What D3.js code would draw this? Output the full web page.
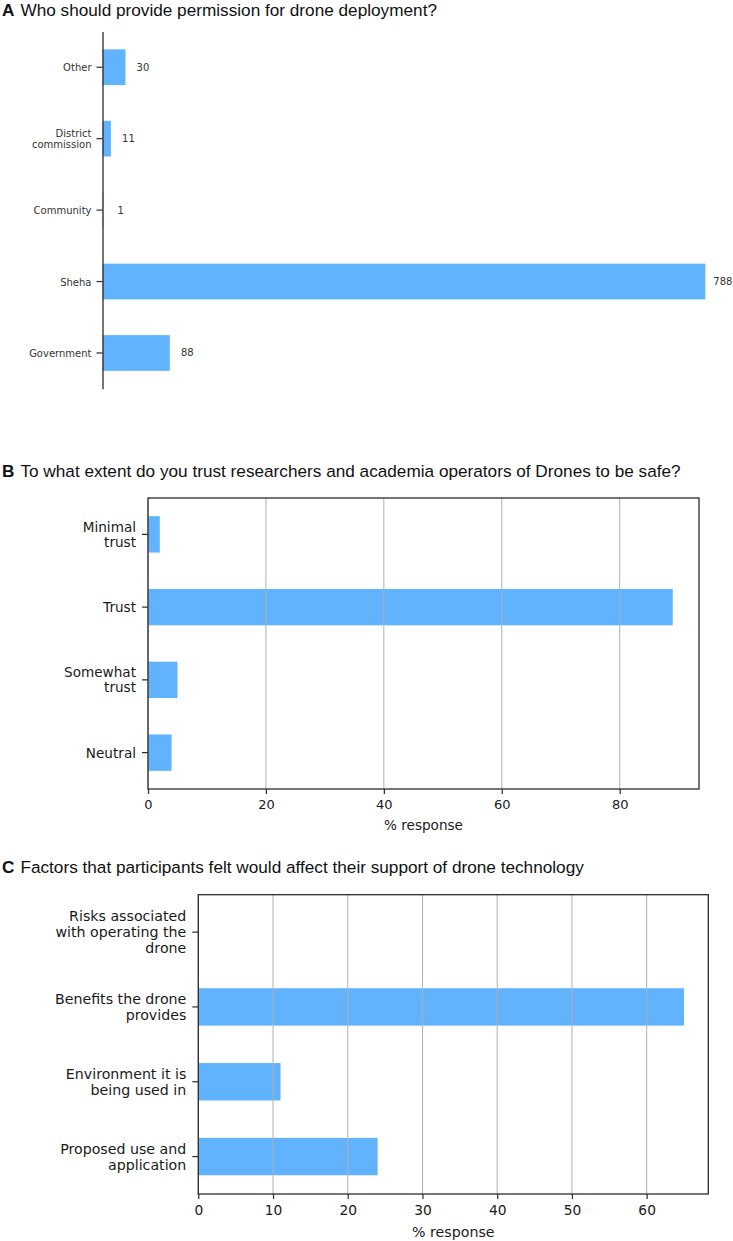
<!DOCTYPE html>
<html>
<head>
<meta charset="utf-8">
<script src="https://cdn.jsdelivr.net/npm/d3@7"></script>
<style>
  body { margin: 0; background: #fff; }
  svg { display: block; }
  .title { font-family: "Liberation Sans", Arial, sans-serif; font-size: 17.2px; fill: #111; }
  .title .tag { font-weight: bold; }
  .tick text, .vlabel, .xlabel { font-family: "DejaVu Sans", sans-serif; }
</style>
</head>
<body>
<script>
// panel A: counts
var permCategories = ["Other", "District\ncommission", "Community", "Sheha", "Government"];
var permCounts = [30, 11, 1, 788, 88];

// panel B: % response
var trustCategories = ["Minimal\ntrust", "Trust", "Somewhat\ntrust", "Neutral"];
var trustPct = [2, 89, 5, 4];
var trustTicks = [0, 20, 40, 60, 80];

// panel C: % response
var factorCategories = ["Risks associated\nwith operating the\ndrone", "Benefits the drone\nprovides", "Environment it is\nbeing used in", "Proposed use and\napplication"];
var factorPct = [0, 65, 11, 24];
var factorTicks = [0, 10, 20, 30, 40, 50, 60];

var width = 733, height = 1241;
var barColor = "#62b3fe";
var spineColor = "#2b2b2b";

var svg = d3.select("body").append("svg")
  .attr("width", width)
  .attr("height", height);

function title(y, tag, text) {
  var t = svg.append("text").attr("class", "title").attr("x", 2).attr("y", y);
  t.append("tspan").attr("class", "tag").text(tag);
  t.append("tspan").attr("dx", 6).text(text);
}

// split "a\nb" labels into centred lines
function multiline(sel, lineHeight) {
  sel.each(function(d) {
    var lines = d.split("\n");
    var el = d3.select(this).text(null);
    lines.forEach(function(line, i) {
      el.append("tspan")
        .attr("x", el.attr("x"))
        .attr("dy", i == 0 ? (-(lines.length - 1) / 2 * lineHeight) : lineHeight)
        .text(line);
    });
  });
}

// ---------- A ----------
title(16, "A", "Who should provide permission for drone deployment?");

var xA = d3.scaleLinear().domain([0, 788 * 1.05]).range([102.5, 735.5]);
var yA = d3.scaleBand().domain(permCategories).range([31.5, 388.7])
  .paddingInner(0.5).paddingOuter(0.25);

var gA = svg.append("g");

gA.selectAll(".bar")
  .data(permCounts)
  .enter()
  .append("rect")
    .attr("class", "bar")
    .attr("x", xA(0))
    .attr("y", function(d, i) { return yA(permCategories[i]); })
    .attr("width", function(d) { return xA(d) - xA(0); })
    .attr("height", yA.bandwidth())
    .attr("fill", barColor);

gA.selectAll(".vlabel")
  .data(permCounts)
  .enter()
  .append("text")
    .attr("class", "vlabel")
    .attr("x", function(d) { return xA(d) + 17.5; })
    .attr("y", function(d, i) { return yA(permCategories[i]) + yA.bandwidth() / 2; })
    .attr("text-anchor", "middle")
    .attr("dominant-baseline", "central")
    .attr("font-size", 10)
    .attr("fill", "#333")
    .text(function(d) { return d; });

var axA = gA.append("g")
  .attr("transform", "translate(" + xA(0) + ",0)")
  .call(d3.axisLeft(yA).tickSize(6).tickPadding(5).tickSizeOuter(0));
axA.select(".domain").attr("stroke", spineColor).attr("stroke-width", 1.3);
axA.selectAll(".tick line").attr("stroke", spineColor).attr("stroke-width", 1.2);
axA.selectAll(".tick text")
  .attr("font-size", 10).attr("fill", "#333")
  .attr("dy", null).attr("dominant-baseline", "central")
  .call(multiline, 11.5);

// ---------- B and C share one layout ----------
function boxedPanel(opt) {
  var x = d3.scaleLinear().domain([0, opt.max * 1.05]).range([opt.left, opt.right]);
  var y = d3.scaleBand().domain(opt.categories).range([opt.top, opt.bottom])
    .paddingInner(0.5).paddingOuter(0.25);
  var g = svg.append("g");

  g.selectAll(".bar")
    .data(opt.values)
    .enter()
    .append("rect")
      .attr("class", "bar")
      .attr("x", x(0))
      .attr("y", function(d, i) { return y(opt.categories[i]); })
      .attr("width", function(d) { return x(d) - x(0); })
      .attr("height", y.bandwidth())
      .attr("fill", barColor);

  // grid sits on top of the bars
  g.selectAll(".grid")
    .data(opt.ticks)
    .enter()
    .append("line")
      .attr("class", "grid")
      .attr("x1", function(d) { return x(d); })
      .attr("x2", function(d) { return x(d); })
      .attr("y1", opt.top).attr("y2", opt.bottom)
      .attr("stroke", "#b0b0b0")
      .attr("stroke-width", 1);

  g.append("rect")
    .attr("x", opt.left).attr("y", opt.top)
    .attr("width", opt.right - opt.left).attr("height", opt.bottom - opt.top)
    .attr("fill", "none")
    .attr("stroke", spineColor)
    .attr("stroke-width", 1.3);

  var ay = g.append("g")
    .attr("transform", "translate(" + opt.left + ",0)")
    .call(d3.axisLeft(y).tickSize(6).tickPadding(6).tickSizeOuter(0));
  ay.select(".domain").remove();
  ay.selectAll(".tick line").attr("stroke", spineColor).attr("stroke-width", 1.2);
  ay.selectAll(".tick text")
    .attr("font-size", opt.fontSize).attr("fill", "#1a1a1a")
    .attr("dy", null).attr("dominant-baseline", "central")
    .call(multiline, opt.lineHeight);

  var ax = g.append("g")
    .attr("transform", "translate(0," + opt.bottom + ")")
    .call(d3.axisBottom(x).tickValues(opt.ticks).tickSize(5).tickPadding(6).tickSizeOuter(0));
  ax.select(".domain").remove();
  ax.selectAll(".tick line").attr("stroke", spineColor).attr("stroke-width", 1.2);
  ax.selectAll(".tick text").attr("font-size", opt.tickFontSize).attr("fill", "#1a1a1a");

  g.append("text")
    .attr("class", "xlabel")
    .attr("x", (opt.left + opt.right) / 2)
    .attr("y", opt.xlabelY)
    .attr("text-anchor", "middle")
    .attr("font-size", opt.fontSize)
    .attr("fill", "#1a1a1a")
    .text("% response");
}

title(477, "B", "To what extent do you trust researchers and academia operators of Drones to be safe?");
boxedPanel({
  categories: trustCategories, values: trustPct, ticks: trustTicks, max: 89,
  left: 148, right: 699, top: 498, bottom: 789,
  fontSize: 13.6, tickFontSize: 13, lineHeight: 15, xlabelY: 830
});

title(873, "C", "Factors that participants felt would affect their support of drone technology");
boxedPanel({
  categories: factorCategories, values: factorPct, ticks: factorTicks, max: 65,
  left: 198.3, right: 708.3, top: 894.7, bottom: 1194,
  fontSize: 14.2, tickFontSize: 13.8, lineHeight: 16, xlabelY: 1237
});
</script>
</body>
</html>
